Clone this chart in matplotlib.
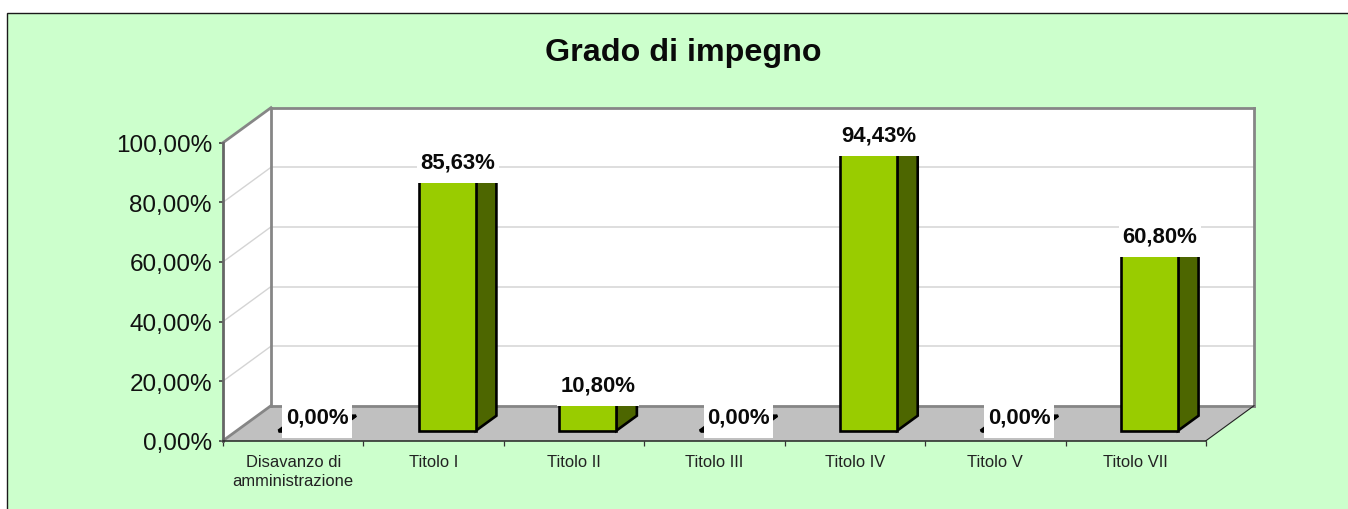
import matplotlib
matplotlib.use("Agg")
import matplotlib.pyplot as plt
from matplotlib.patches import Polygon, Rectangle

plt.rcParams['font.family'] = ['Liberation Sans', 'DejaVu Sans']

title = "Grado di impegno"
categories = ["Disavanzo di\namministrazione", "Titolo I", "Titolo II", "Titolo III",
              "Titolo IV", "Titolo V", "Titolo VII"]
values = [0.0, 85.63, 10.80, 0.0, 94.43, 0.0, 60.80]
value_labels = ["0,00%", "85,63%", "10,80%", "0,00%", "94,43%", "0,00%", "60,80%"]
y_ticks = [0, 20, 40, 60, 80, 100]
y_labels = ["0,00%", "20,00%", "40,00%", "60,00%", "80,00%", "100,00%"]

W, H = 1348, 510
GREEN = "#ccffcc"
BAR = "#99cc00"
SIDE = "#4d6600"
FLOOR = "#c0c0c0"
WALL_EDGE = "#868686"
GRID = "#d4d4d4"

# 3d look: how far the back wall is shifted, in category units and percent
DX = 48 / 140.43
DY = 35 / 2.98
n = len(categories)
BAR_W = 0.406
PX_X = 1 / 140.43  # one pixel in data units
PX_Y = 1 / 2.98


def pt(x, y, d=0.0):
    return (x + d * DX, y + d * DY)


fig = plt.figure(figsize=(W / 100, H / 100), dpi=100, facecolor="white")
# panel runs off the right and bottom edge, only left and top border show
fig.add_artist(Rectangle((7 / W, -0.05), 1.1, 1 - 13.5 / H + 0.05, transform=fig.transFigure,
                         facecolor=GREEN, edgecolor="#1a1a1a", linewidth=1.0, zorder=-1))
ax = fig.add_axes([223 / W, 1 - 441.7 / H, (1206 - 223) / W, (441 - 143) / H])
ax.patch.set_visible(False)
ax.set_xlim(0, n)
ax.set_ylim(0, 100)


def poly(points, fc, ec="none", lw=0.0, z=1):
    ax.add_patch(Polygon(points, closed=True, facecolor=fc, edgecolor=ec, linewidth=lw,
                         clip_on=False, zorder=z, joinstyle="miter"))


def line(a, b, color, lw, z=1.5):
    ax.plot([a[0], b[0]], [a[1], b[1]], color=color, linewidth=lw, clip_on=False, zorder=z,
            solid_capstyle="projecting")


# walls and floor
poly([pt(0, 0, 1), pt(n, 0, 1), pt(n, 100, 1), pt(0, 100, 1)], "white")
poly([pt(0, 0), pt(0, 0, 1), pt(0, 100, 1), pt(0, 100)], "white")
poly([pt(0, 0), pt(n, 0), pt(n, 0, 1), pt(0, 0, 1)], FLOOR)

for t in y_ticks[1:-1]:
    line(pt(0, t), pt(0, t, 1), GRID, 1.0)
    line(pt(0, t, 1), pt(n, t, 1), GRID, 1.1)

line(pt(0, 100, 1), pt(n, 100, 1), WALL_EDGE, 2.0, 2)
line(pt(0, 0, 1), pt(0, 100, 1), WALL_EDGE, 2.0, 2)
line(pt(n, 0, 1), pt(n, 100, 1), WALL_EDGE, 2.0, 2)
line(pt(0, 0, 1), pt(n, 0, 1), WALL_EDGE, 2.0, 2)
line(pt(0, 100), pt(0, 100, 1), WALL_EDGE, 2.0, 2)
line(pt(0, 0), pt(0, 0, 1), WALL_EDGE, 2.0, 2)
line(pt(n, 0), pt(n, 0, 1), "#222222", 0.8, 2)

# bars, the label boxes sit on top and hide the bar tops
D0, D1 = 0.286, 0.714
for i, v in enumerate(values):
    x0 = i + 0.297
    x1 = x0 + BAR_W
    poly([pt(x1, 0, D0), pt(x1, 0, D1), pt(x1, v, D1), pt(x1, v, D0)], SIDE, "black", 1.9, 3)
    poly([pt(x0, v, D0), pt(x1, v, D0), pt(x1, v, D1), pt(x0, v, D1)], SIDE, "black", 1.9, 3)
    poly([pt(x0, 0, D0), pt(x1, 0, D0), pt(x1, v, D0), pt(x0, v, D0)], BAR, "black", 1.9, 4)

    cx = x0 + BAR_W / 2 + 24 * PX_X
    half = (35 if v == 0 else 41) * PX_X
    base = v + 3 * PX_Y
    ax.add_patch(Rectangle((cx - half, base), 2 * half, 33 * PX_Y, facecolor="white",
                           edgecolor="none", clip_on=False, zorder=5))
    ax.text(cx, base + 21 * PX_Y, value_labels[i], ha="center", va="center", fontsize=15.9,
            fontweight="bold", color="#0a0a0a", zorder=6, clip_on=False)

# axes
for s in ["top", "right"]:
    ax.spines[s].set_visible(False)
ax.spines["left"].set_color("#666666")
ax.spines["left"].set_linewidth(2.0)
ax.spines["bottom"].set_color("#222222")
ax.spines["bottom"].set_linewidth(1.1)
for s in ["left", "bottom"]:
    ax.spines[s].set_zorder(2.5)

ax.set_yticks(y_ticks)
ax.set_yticklabels(y_labels, fontsize=17.5, color="#111111")
ax.tick_params(axis="y", length=3, width=1.1, color="#333333", pad=5)
ax.set_xticks(range(n + 1))
ax.set_xticklabels([])
ax.tick_params(axis="x", which="major", length=3.5, width=0.9, color="#333333")
ax.set_xticks([i + 0.5 for i in range(n)], minor=True)
ax.set_xticklabels(categories, minor=True, fontsize=11.9, color="#222222", linespacing=1.35)
ax.tick_params(axis="x", which="minor", length=0, pad=9.5)

fig.text(683 / W, 1 - 53 / H, title, ha="center", va="center", fontsize=23.2,
         fontweight="bold", color="#0a0a0a")

fig.savefig("out.png", dpi=100, facecolor="white")
